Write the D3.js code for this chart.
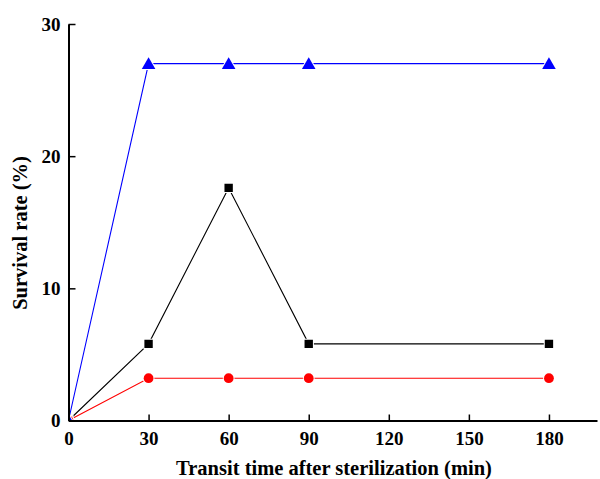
<!DOCTYPE html>
<html>
<head>
<meta charset="utf-8">
<script src="https://cdn.jsdelivr.net/npm/d3@7"></script>
<style>
  body { margin: 0; background: #fff; }
  svg { display: block; }
  svg text { font-family: "Liberation Serif", "Times New Roman", serif !important; font-weight: bold; }
</style>
</head>
<body>
<div id="chart"></div>
<script>
// Data
const times = [0, 30, 60, 90, 180]
const blackSeries = [0, 5.8, 17.6, 5.8, 5.8]
const redSeries = [0, 3.2, 3.2, 3.2, 3.2]
const blueSeries = [0, 27, 27, 27, 27]
const xTicks = [0, 30, 60, 90, 120, 150, 180]
const yTicks = [0, 10, 20, 30]

const width = 600, height = 479
const svg = d3.select("#chart").append("svg")
  .attr("width", width)
  .attr("height", height)

const x = d3.scaleLinear().domain([0, 198]).range([68.5, 597])
const y = d3.scaleLinear().domain([0, 30]).range([420.5, 24])

// Clip so markers at origin are cut by the axes
svg.append("clipPath").attr("id", "plot")
  .append("rect")
  .attr("x", x(0)).attr("y", 0)
  .attr("width", width - x(0)).attr("height", y(0))

const series = [
  { values: blackSeries, color: "#000", shape: d3.symbolSquare, size: 70 },
  { values: redSeries, color: "#ff0000", shape: d3.symbolCircle, size: 75 },
  { values: blueSeries, color: "#0000ff", shape: d3.symbolTriangle, size: 80 }
]

const line = d3.line().x((d, i) => x(times[i])).y(d => y(d))
const plot = svg.append("g").attr("clip-path", "url(#plot)")

series.forEach(s => {
  plot.append("path")
    .attr("d", line(s.values))
    .attr("fill", "none")
    .attr("stroke", s.color)
    .attr("stroke-width", 1.1)
})

series.forEach(s => {
  plot.selectAll(null)
    .data(s.values)
    .enter()
    .append("path")
    .attr("d", d3.symbol().type(s.shape).size(s.size))
    .attr("transform", (d, i) => `translate(${x(times[i])},${y(d) + (s.shape === d3.symbolTriangle ? 1.5 : 0)})`)
    .attr("fill", s.color)
    .attr("stroke", "#fff")
    .attr("stroke-width", 2)
    .attr("paint-order", "stroke")
})

// Axes (ticks point inward)
const xAxis = svg.append("g")
  .attr("transform", `translate(0,${y(0)})`)
  .call(d3.axisBottom(x).tickValues(xTicks).tickSize(-6).tickPadding(11).tickSizeOuter(0))
xAxis.select(".domain").attr("stroke-width", 2)
xAxis.selectAll(".tick line").attr("stroke-width", 1.5)
xAxis.selectAll("text")
  .style("font-size", "19px")
  .attr("dy", "0.71em")

const yAxis = svg.append("g")
  .attr("transform", `translate(${x(0)},0)`)
  .call(d3.axisLeft(y).tickValues(yTicks).tickSize(-7).tickPadding(8).tickSizeOuter(0))
yAxis.select(".domain").attr("stroke-width", 2)
yAxis.selectAll(".tick line").attr("stroke-width", 1.5)
yAxis.selectAll("text")
  .style("font-size", "19px")

// Axis titles
svg.append("text")
  .attr("x", 334)
  .attr("y", 475)
  .attr("text-anchor", "middle")
  .style("font-size", "20.5px")
  .text("Transit time after sterilization (min)")

svg.append("text")
  .attr("transform", `translate(27,233) rotate(-90)`)
  .attr("text-anchor", "middle")
  .style("font-size", "20.5px")
  .text("Survival rate (%)")
</script>
</body>
</html>
